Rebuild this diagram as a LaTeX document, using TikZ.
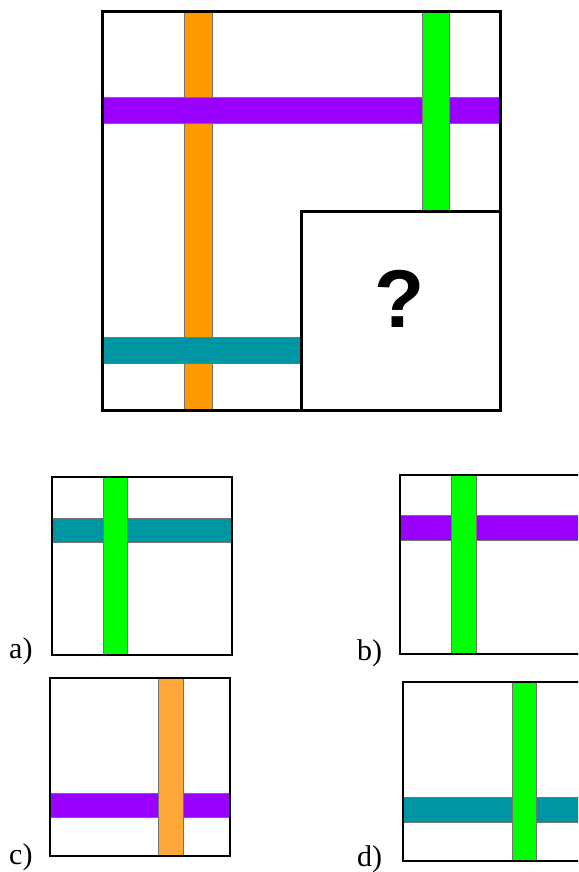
\documentclass[tikz,border=0pt]{standalone}
\usepackage{fontspec}
\setmainfont{Liberation Serif}
\newfontfamily\qfont{Liberation Sans}
\definecolor{cOrange}{HTML}{FF9900}
\definecolor{cOrangeL}{HTML}{FFA83C}
\definecolor{cPurple}{HTML}{9900FF}
\definecolor{cGreen}{HTML}{00FF00}
\definecolor{cTeal}{HTML}{0095A3}
\tikzset{
  bar/.style={draw=black!55, line width=0.8pt},
  bigframe/.style={draw=black, line width=3pt},
  smallframe/.style={draw=black, line width=2.6pt},
  lbl/.style={anchor=base west, inner sep=0pt, font=\fontsize{30}{30}\selectfont},
}
\begin{document}
\begin{tikzpicture}[x=1pt,y=-1pt]
\useasboundingbox (0,0) rectangle (578,872);
\clip (0,0) rectangle (578,872);
\fill[white] (0,0) rectangle (578,872);
% main square
\draw[bar, fill=cOrange] (184,12) rectangle (212,410);
\draw[bar, fill=cPurple] (102,97) rectangle (500,123);
\draw[bar, fill=cGreen] (422,12) rectangle (449,211);
\draw[bar, fill=cTeal] (102,337) rectangle (301,363);
\draw[bigframe] (102,12) rectangle (500,410);
\draw[bigframe, fill=white] (301,211) rectangle (500,410);
\node[inner sep=0pt, font=\qfont\bfseries\fontsize{82}{82}\selectfont] (q) at (400,299) {?};
% option a
\draw[bar, fill=cTeal] (52,518) rectangle (232,542);
\draw[bar, fill=cGreen] (103,477) rectangle (127,655);
\draw[smallframe] (52,477) rectangle (232,655);
\node[lbl] (la) at (9,658) {a)};
% option b
\draw[bar, fill=cPurple] (400,515) rectangle (590,540);
\draw[bar, fill=cGreen] (451,475) rectangle (476,654);
\draw[smallframe] (400,475) rectangle (590,654);
\node[lbl] (lb) at (357,660) {b)};
% option c
\draw[bar, fill=cPurple] (50,793) rectangle (230,817);
\draw[bar, fill=cOrangeL] (158,678) rectangle (183,856);
\draw[smallframe] (50,678) rectangle (230,856);
\node[lbl] (lc) at (9,864) {c)};
% option d
\draw[bar, fill=cTeal] (403,797) rectangle (590,822);
\draw[bar, fill=cGreen] (512,682) rectangle (536,861);
\draw[smallframe] (403,682) rectangle (590,861);
\node[lbl] (ld) at (357,866) {d)};
\end{tikzpicture}
\end{document}
